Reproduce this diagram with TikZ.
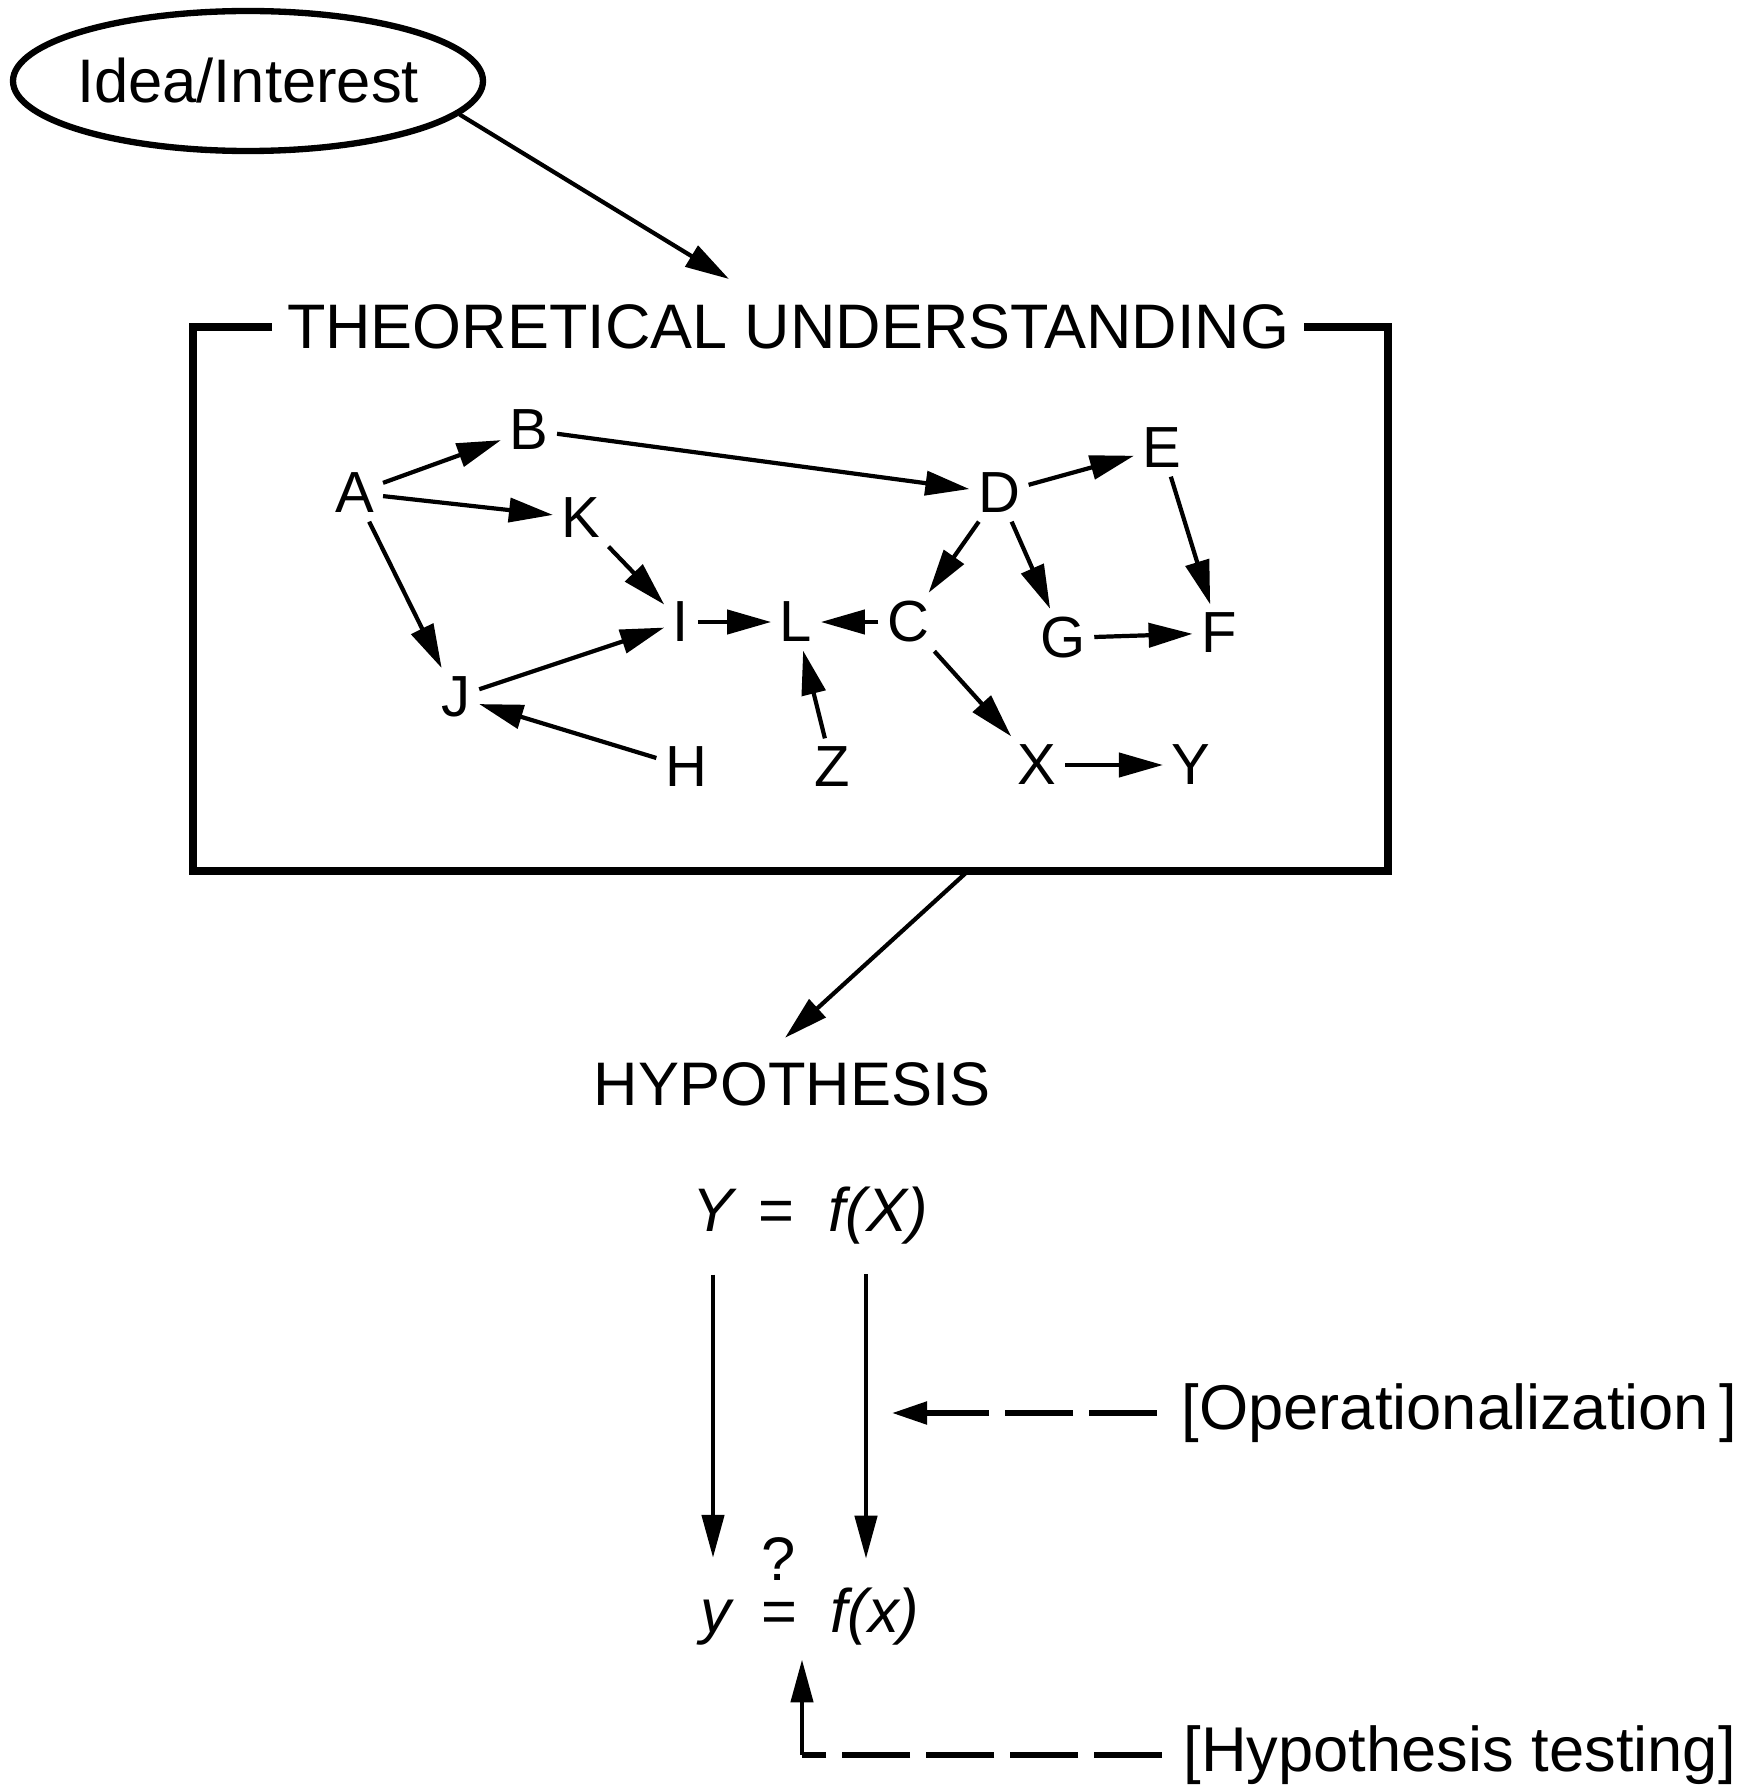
\documentclass[tikz,border=0pt]{standalone}
\usepackage{fontspec}
\setmainfont{Liberation Sans}
\usetikzlibrary{arrows.meta, shapes.geometric}

\begin{document}
\begin{tikzpicture}[x=1cm, y=-1cm,
    var/.style={inner sep=0.8mm, font=\fontsize{16.5}{18}\selectfont},
    lbl/.style={font=\fontsize{17.5}{20}\selectfont},
    note/.style={font=\fontsize{18}{20}\selectfont, anchor=west, inner ysep=0pt},
    eqn/.style={inner sep=0pt, anchor=base, font=\fontsize{17.5}{20}\selectfont\itshape},
    arr/.style={-{Triangle[length=4.4mm,width=2.4mm]}, line width=1.2pt},
    longarr/.style={-{Triangle[length=4.3mm,width=2.2mm]}, line width=1.3pt},
    dashline/.style={line width=1.5pt, dash pattern=on 6.8mm off 1.6mm}]
    \useasboundingbox (0,0) rectangle (17.49,17.87);
    \node[ellipse, draw, line width=1.8pt, minimum width=4.7cm, minimum height=1.4cm,
        inner xsep=-1mm, inner ysep=0pt, lbl] (idea) at (2.48,0.81) {Idea/Interest};
    \node[inner xsep=4pt, font=\fontsize{17.9}{22}\selectfont] (theory) at (7.88,3.27) {THEORETICAL UNDERSTANDING};
    \draw[line width=2.2pt] (theory.west) -| (1.93,8.71) -| (13.88,3.27) -- (theory.east);
    \coordinate (ideatip) at (7.29,2.79);
    \draw[arr] (idea.-9) -- (ideatip);
    \foreach \n/\x/\y in {A/3.55/4.93, B/5.29/4.30, K/5.81/5.18, D/9.99/4.93, E/11.62/4.48,
        I/6.81/6.22, L/7.96/6.22, C/9.08/6.22, G/10.63/6.38, F/12.19/6.33,
        J/4.56/6.97, H/6.86/7.67, Z/8.32/7.67, X/10.37/7.65, Y/11.91/7.65}
        \node[var] (\n) at (\x,\y) {\n};
    \foreach \a/\b in {A/B, A/K, A/J, B/D, K/I, J/I, H/J, I/L, C/L, Z/L,
        D/C, D/E, D/G, E/F, G/F, C/X, X/Y}
        \draw[arr] (\a) -- (\b);
    \node[lbl] (hyp) at (7.92,10.84) {HYPOTHESIS};
    \coordinate (boxout) at (9.68,8.71);
    \draw[arr] (boxout) -- ([xshift=-0.7mm,yshift=1.2mm]hyp.north);
    \node[eqn] (Yup) at (7.13,12.31) {Y};
    \node[eqn] (eqtop) at (7.76,12.31) {\upshape =};
    \node[eqn] (fX) at (8.78,12.31) {f(X)};
    \node[eqn] (ysmall) at (7.16,16.32) {y};
    \node[eqn] (eqbot) at (7.79,16.32) {\upshape\shortstack{?\\[3pt]=}};
    \node[eqn] (fx) at (8.75,16.32) {f(x)};
    \draw[longarr, shorten <=4.3mm, shorten >=4.1mm] (Yup.south) -- (Yup.south |- ysmall.north);
    \draw[longarr, shorten <=3mm, shorten >=2.8mm] ([xshift=-1.2mm]fX.south) -- ([xshift=-1.2mm]fX.south |- fx.north);
    \node[note, inner xsep=2.4mm] (op) at (11.57,14.13) {[Operationalization\,]};
    \coordinate (opend) at (8.92,14.13);
    \draw[dashline, -{Triangle[length=3.5mm,width=2.2mm]}] (op.west) -- (opend);
    \node[note, inner xsep=2.1mm] (test) at (11.62,17.55) {[Hypothesis testing]};
    \coordinate (tcorner) at (8.02,17.55);
    \draw[dashline] (test.west) -- (tcorner);
    \draw[longarr, shorten >=1.4mm] (tcorner) -- (tcorner |- fx.south);
\end{tikzpicture}
\end{document}
